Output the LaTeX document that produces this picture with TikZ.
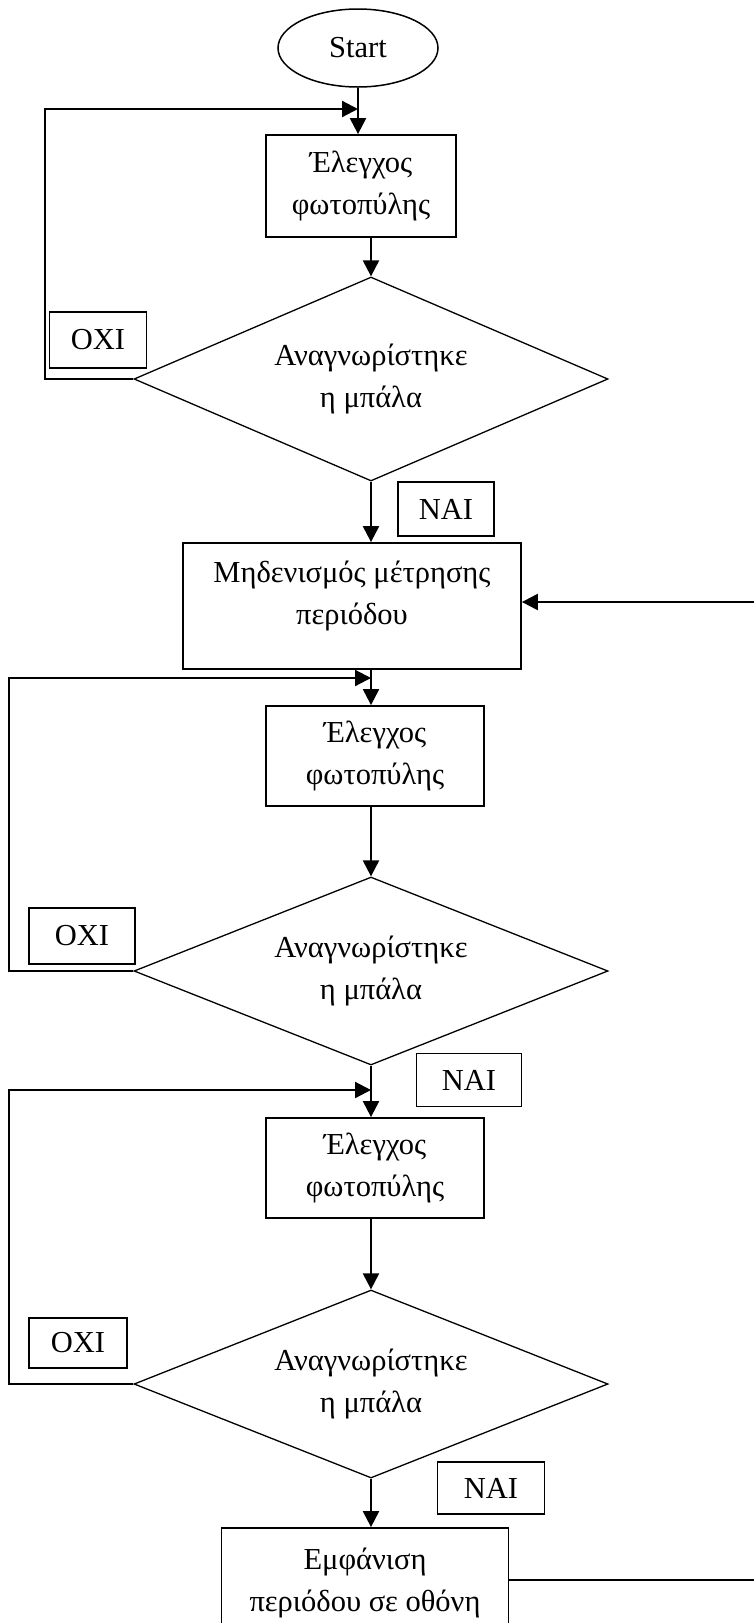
\documentclass[tikz,border=0pt]{standalone}
\usepackage{fontspec}
\setmainfont{Liberation Serif}
\usetikzlibrary{shapes.geometric,arrows.meta}

\begin{document}
\begin{tikzpicture}[x=1pt,y=-1pt,
  every node/.style={font=\fontsize{30.5}{42}\selectfont, align=center},
  box/.style={draw, line width=1.8pt, rectangle, inner sep=2pt},
  decision/.style={draw, line width=1.3pt, diamond, aspect=2.4, inner sep=0pt, minimum width=474pt},
  answer/.style={draw, line width=1.8pt, rectangle, inner sep=2pt},
  flow/.style={line width=2.2pt, -{Triangle[length=16pt,width=16pt]}}]
\useasboundingbox (0,0) rectangle (753,1623);

\node[draw, ellipse, line width=1.5pt, minimum width=160pt, minimum height=78pt] (start) at (358,48) {Start};
\node[box, minimum width=190pt, minimum height=102pt] (check1) at (361,186) {Έλεγχος\\φωτοπύλης};
\node[decision, minimum height=204pt] (dia1) at (371,379) {Αναγνωρίστηκε\\η μπάλα};
\node[answer, minimum width=97pt, minimum height=56pt] (no1) at (98,340) {ΟΧΙ};
\node[answer, minimum width=96pt, minimum height=54pt] (yes1) at (446,509) {ΝΑΙ};
\node[box, minimum width=338pt, minimum height=126pt, text depth=26pt] (reset) at (352,606) {Μηδενισμός μέτρησης\\περιόδου};
\node[box, minimum width=218pt, minimum height=100pt] (check2) at (375,756) {Έλεγχος\\φωτοπύλης};
\node[decision, minimum height=188pt] (dia2) at (371,971) {Αναγνωρίστηκε\\η μπάλα};
\node[answer, minimum width=106pt, minimum height=56pt] (no2) at (82,936) {ΟΧΙ};
\node[answer, minimum width=105pt, minimum height=53pt] (yes2) at (469,1080) {ΝΑΙ};
\node[box, minimum width=218pt, minimum height=100pt] (check3) at (375,1168) {Έλεγχος\\φωτοπύλης};
\node[decision, minimum height=188pt] (dia3) at (371,1384) {Αναγνωρίστηκε\\η μπάλα};
\node[answer, minimum width=98pt, minimum height=50pt] (no3) at (78,1343) {ΟΧΙ};
\node[answer, minimum width=107pt, minimum height=52pt] (yes3) at (491,1488) {ΝΑΙ};
\node[box, minimum width=287pt, minimum height=110pt] (show) at (365,1583) {Εμφάνιση\\περιόδου σε οθόνη};

\coordinate (j1) at (358,109);
\coordinate (j2) at (371,678);
\coordinate (j3) at (371,1090);

\draw[flow] (start.south) -- (start.south |- check1.north);
\draw[flow] (dia1.north |- check1.south) -- (dia1.north);
\draw[flow] (dia1.south) -- (dia1.south |- reset.north);
\draw[flow] (dia2.north |- reset.south) -- (dia2.north |- check2.north);
\draw[flow] (dia2.north |- check2.south) -- (dia2.north);
\draw[flow] (dia2.south) -- (dia2.south |- check3.north);
\draw[flow] (dia3.north |- check3.south) -- (dia3.north);
\draw[flow] (dia3.south) -- (dia3.south |- show.north);

\draw[flow] (dia1.west) -- ++(-88,0) |- (j1);
\draw[flow] (dia2.west) -- ++(-124,0) |- (j2);
\draw[flow] (dia3.west) -- ++(-124,0) |- (j3);

\draw[flow] ([yshift=3pt]show.east) -- ++(260,0) |- ([yshift=4pt]reset.east);
\end{tikzpicture}
\end{document}
